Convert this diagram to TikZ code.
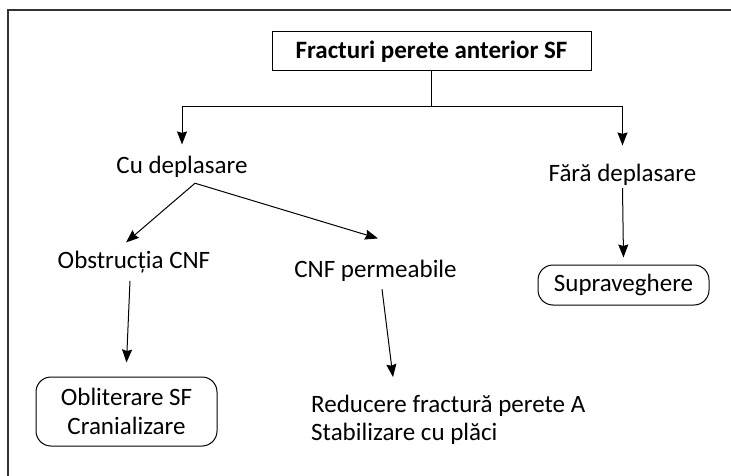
\documentclass[tikz,border=0pt]{standalone}
\usepackage{fontspec}
\setmainfont{Carlito}
\usetikzlibrary{positioning, arrows.meta, calc}
\tikzset{
  titlebox/.style={
    rectangle,
    draw,
    line width=1pt,
    minimum width=319pt,
    minimum height=39pt,
    font=\fontsize{25}{29}\selectfont\bfseries,
    inner sep=4pt
  },
  plainlabel/.style={
    font=\fontsize{25}{28}\selectfont,
    inner sep=8pt
  },
  roundbox/.style={
    rectangle,
    draw,
    rounded corners=15pt,
    line width=1pt,
    align=center,
    font=\fontsize{25}{29}\selectfont,
    inner sep=6pt
  },
  flowline/.style={
    line width=1pt
  },
  flowarrow/.style={
    -{Stealth[length=13pt, width=10pt, inset=1.5pt]},
    line width=1pt
  },
  outerframe/.style={
    line width=2.2pt,
    draw=black!80
  }
}

\begin{document}
\begin{tikzpicture}[x=1pt, y=-1pt]
  \useasboundingbox (0,0) rectangle (731,476);
  \clip (0,0) rectangle (731,476);
  \draw[outerframe] (8,10) rectangle (760,500);

  \node[titlebox] (title) at (431.5,51.5) {Fracturi perete anterior SF};
  \node[plainlabel, anchor=base] (cu) at (182,173) {Cu deplasare};
  \node[plainlabel, anchor=base] (fara) at (622.5,182) {Fără deplasare};
  \node[plainlabel, anchor=base] (obst) at (134,268) {Obstrucția CNF};
  \node[plainlabel, anchor=base] (perm) at (375.5,277) {CNF permeabile};
  \node[roundbox, minimum width=171pt, minimum height=40pt] (supr) at (623.5,285) {Supraveghere};
  \node[roundbox, minimum width=181pt, minimum height=69pt] (oblit) at (126.5,411.5)
    {Obliterare SF\\Cranializare};
  \node[plainlabel, anchor=west, align=left] (reduc) at (303,420)
    {Reducere fractură perete A\\Stabilizare cu plăci};

  \coordinate (split) at ($(title.south)+(0,35)$);

  \draw[flowline] (title.south) -- (split);
  \draw[flowarrow] (split) -| ([yshift=3pt]cu.north);
  \draw[flowarrow] (split) -| ([yshift=11pt]fara.north);
  \draw[flowarrow] ([yshift=6pt]fara.south) -- ([yshift=7pt]supr.north);
  \draw[flowarrow] ([xshift=13pt, yshift=2pt]cu.south) -- ([xshift=-8pt]obst.north);
  \draw[flowarrow] ([xshift=13pt, yshift=2pt]cu.south) -- ([xshift=2.5pt, yshift=13pt]perm.north);
  \draw[flowarrow] ([xshift=-4pt]obst.south) -- ([yshift=14pt]oblit.north);
  \draw[flowarrow] ([xshift=6.5pt]perm.south) -- ([xshift=90pt, yshift=10pt]reduc.north west);
\end{tikzpicture}
\end{document}
